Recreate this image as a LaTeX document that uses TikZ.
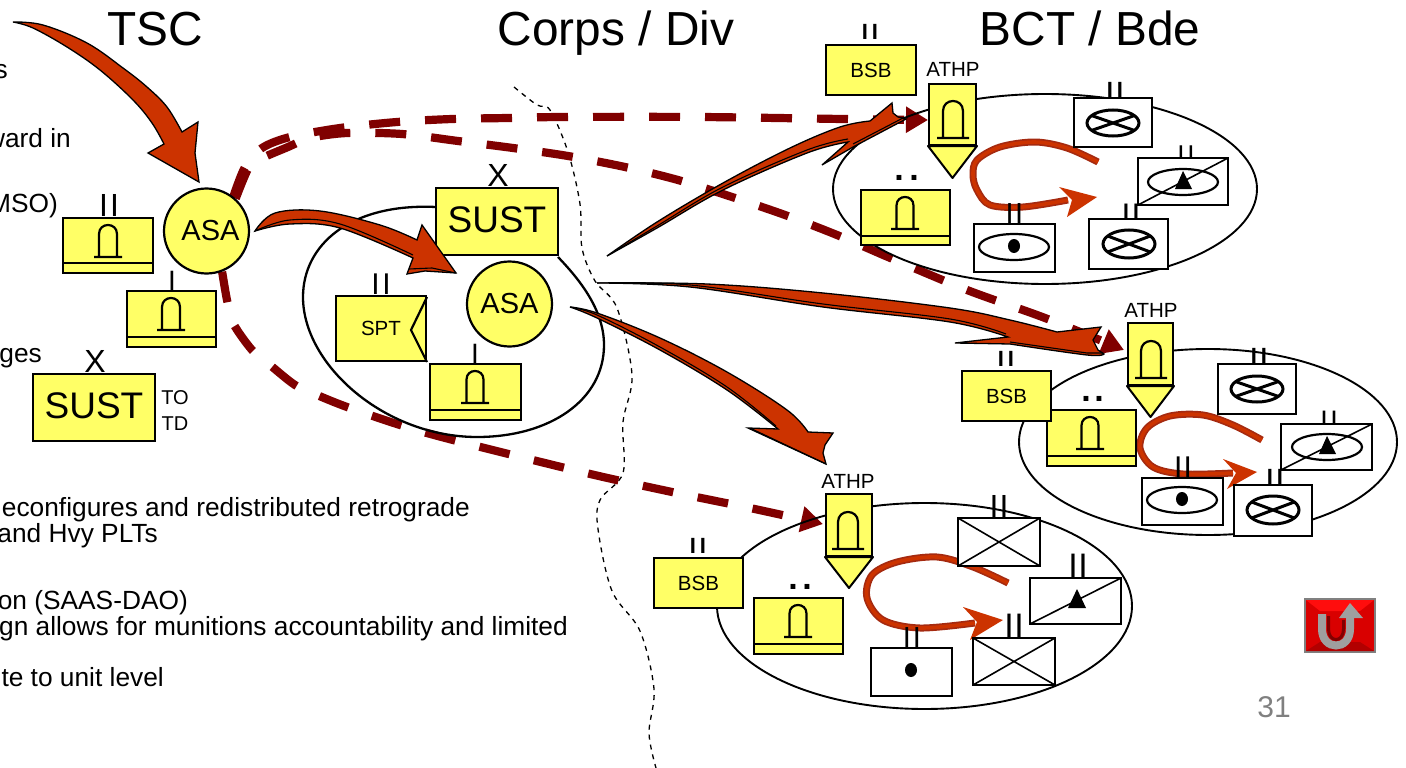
\documentclass[tikz,border=0pt]{standalone}
\usepackage{fontspec}
\setmainfont{Liberation Sans}
\usetikzlibrary{arrows.meta}
\definecolor{unityellow}{HTML}{FFFF66}
\definecolor{boltred}{HTML}{CC3300}
\definecolor{darkred}{HTML}{800000}
\definecolor{uedge}{HTML}{A52A10}
\definecolor{pagegray}{HTML}{808080}
\pgfdeclarelayer{back}
\pgfdeclarelayer{front}
\pgfsetlayers{back,main,front}
\newcommand{\myfs}[1]{\fontsize{#1}{#1}\selectfont}
\newcount\ecnt
\newcommand{\ech}[6]{%
  \global\advance\ecnt by 1
  \pgfmathsetmacro\ekern{#5-0.278*#4}%
  \node[inner sep=0,anchor=base] (e\the\ecnt) at (#2,#3) {\myfs{#4}#6\relax #1\kern\ekern pt #1};}
\newcommand{\ubox}[7]{%
  \pgfmathsetmacro\bw{#5-#3-2}\pgfmathsetmacro\bh{#6-#4-2}%
  \node[#1,minimum width=\bw pt,minimum height=\bh pt] (#2) at ({(#3+#5)/2},{(#4+#6)/2}) {#7};}
\newcommand{\towr}[5]{%
  \draw[sym] ({#1-#4},#3) -- ({#1-#4},{#2+#4}) .. controls ({#1-#4},{#2-#4/3}) and ({#1+#4},{#2-#4/3}) .. ({#1+#4},{#2+#4}) -- ({#1+#4},#3)
     ({#1-#5},#3) -- ({#1+#5},#3);}
\newcommand{\unitbox}[6]{% name,l,t,r,b,divider
  \ubox{ybox}{#1}{#2}{#3}{#4}{#5}{}
  \draw[ln] (#2,#6) -- (#4,#6);}
\newcommand{\crossell}[4]{%
  \draw[sym,line width=3pt] (#1,#2) ellipse [x radius=#3,y radius=#4];
  \draw[sym,line width=3pt] ({#1-.82*#3},{#2-.57*#4}) -- ({#1+.82*#3},{#2+.57*#4}) ({#1-.82*#3},{#2+.57*#4}) -- ({#1+.82*#3},{#2-.57*#4});}
\newcommand{\athp}[6]{% name,l,t,r,shoulder,tip
  \fill[unityellow,draw=black,line width=2pt,line join=round] (#2,#5) -- ({(#2+#4)/2},#6) -- (#4,#5) -- cycle;
  \ubox{ybox}{#1}{#2}{#3}{#4}{#5}{}}
\newcommand{\uturn}[3]{% points, head points, tip name
  \begin{pgfonlayer}{back}
  \draw[line width=7pt,uedge,line join=round] plot[smooth,tension=.55] coordinates {#1};
  \draw[line width=3.6pt,boltred,line join=round] plot[smooth,tension=.55] coordinates {#1};
  \fill[boltred] #2 -- cycle;
  \end{pgfonlayer}}
\tikzset{
  x=1pt,y=-1pt,
  ln/.style={draw=black,line width=2.4pt},
  sym/.style={draw=black,line width=2.2pt},
  ybox/.style={draw=black,fill=unityellow,line width=2.8pt,inner sep=0pt,outer sep=0pt},
  wbox/.style={draw=black,fill=white,line width=2.2pt,inner sep=0pt,outer sep=0pt},
  asa/.style={circle,draw=black,fill=unityellow,line width=2.2pt,inner sep=0pt,minimum size=85pt,font=\myfs{29}},
  oval/.style={draw=black,line width=1.9pt},
  title/.style={inner sep=0pt,anchor=base,font=\myfs{47.8}},
  slab/.style={inner sep=0pt,font=\myfs{20.5}},
  body/.style={inner sep=0pt,anchor=base east,font=\myfs{26.3}},
  loopdash/.style={draw=darkred,line width=8.2pt,dash pattern=on 31pt off 25pt},
  looptip/.style={-{Triangle[length=22pt,width=25pt]}},
  bolt/.style={fill=boltred,draw=black,line width=1.3pt,line join=miter,miter limit=8},
  rim/.style={draw=black,line width=1.1pt},
  divider/.style={draw=black,line width=1.3pt,dash pattern=on 5pt off 5pt},
}
\begin{document}
\begin{tikzpicture}
\useasboundingbox (0,0) rectangle (1406,768);

% titles
\node[title] (t1) at (155,45.5) {TSC};
\node[title] (t2) at (616,45.5) {Corps / Div};
\node[title] (t3) at (1090,45.5) {BCT / Bde};

% clipped body text
\node[body] (b1) at (8,78) {s};
\node[body] (b2) at (71,147) {ward in};
\node[body] (b3) at (58,212) {MSO)};
\node[body] (b4) at (42,362) {ges};
\node[body] (b5) at (470,516) {econfigures and redistributed retrograde};
\node[body] (b6) at (158,542) {and Hvy PLTs};
\node[body] (b7) at (188,609) {on (SAAS-DAO)};
\node[body] (b8) at (568,635) {gn allows for munitions accountability and limited};
\node[body] (b9) at (164,686) {te to unit level};
\node[inner sep=0pt,font=\myfs{30},text=pagegray] (pg) at (1274,707) {31};

% ---------- TSC ----------
\unitbox{tscbn}{62}{217}{154}{274}{263}
\towr{108}{225}{257}{9}{14}
\ech{I}{109}{216}{32}{11}{}
\node[asa] (asa1) at (206.5,231) {\hspace*{8pt}\raisebox{-3pt}{ASA}};
\unitbox{tscco}{126}{290}{217}{348}{337}
\towr{171}{298}{330}{9}{14}
\node[inner sep=0pt,anchor=base,font=\myfs{28}] (e1i) at (172,290) {I};
\ubox{ybox}{sust1}{32}{373}{156}{442}{\myfs{37}\raisebox{3pt}{SUST}}
\node[inner sep=0pt,anchor=base,font=\myfs{32}] (x1) at (95,372) {X};
\node[inner sep=0pt,font=\myfs{20}] (to) at (175,398) {TO};
\node[inner sep=0pt,font=\myfs{20}] (td) at (175,424) {TD};

% ---------- Corps / Div ----------
\ubox{ybox}{sust2}{435}{187}{559}{256}{\myfs{37}\raisebox{3pt}{SUST}}
\node[inner sep=0pt,anchor=base,font=\myfs{32}] (x2) at (498,186) {X};
\node[asa] (asa2) at (509.5,304) {\raisebox{-2pt}{ASA}};
\ubox{ybox}{spt}{335}{295}{427}{362}{\myfs{20.5}SPT}
\draw[sym] (427,297) -- (411,330) -- (427,362);
\ech{I}{381}{294}{30}{11}{}
\unitbox{corpsco}{429}{363}{522}{421}{410}
\towr{475}{371}{403}{8.5}{14}
\node[inner sep=0pt,anchor=base,font=\myfs{28}] (e2i) at (475,363) {I};

% ---------- BCT 1 ----------
\ubox{ybox}{bsb1}{825}{44}{917}{96}{\myfs{20.5}BSB}
\ech{I}{870}{40}{22}{10}{\bfseries}
\node[slab] (al1) at (953,69) {ATHP};
\athp{athp1}{928}{83}{977}{146}{178}
\towr{953}{101}{138}{10}{16}
\unitbox{plt1}{860}{189}{951}{246}{236}
\towr{905}{197}{229}{8.5}{14}
\ech{.}{906.5}{180}{34}{15}{\bfseries}
\ubox{wbox}{w11}{1073}{97}{1153}{148}{}
\ech{I}{1115}{97}{22}{10}{\bfseries}
\crossell{1113}{123}{26}{13}
\ubox{wbox}{w12}{1137}{157}{1229}{206}{}
\ech{I}{1186}{157}{17}{10}{\bfseries}
\draw[sym] (1183,182) ellipse [x radius=35,y radius=13];
\fill (1183,171) -- (1192,189) -- (1175,189) -- cycle;
\draw[sym,line width=1.6pt] (w12.south west) -- (w12.north east);
\ubox{wbox}{w13}{973}{223}{1056}{273}{}
\ech{I}{1014.5}{223}{29}{9.5}{}
\draw[sym] (1014,247) ellipse [x radius=35,y radius=13];
\fill (1014,246) ellipse [x radius=6,y radius=7];
\ubox{wbox}{w14}{1088}{218}{1169}{270}{}
\ech{I}{1131}{218}{21}{10}{\bfseries}
\crossell{1129}{244}{26}{14}

% ---------- BCT 2 ----------
\unitbox{plt2}{1046}{409}{1137}{467}{456}
\towr{1090}{417}{449}{8.5}{14}
\ech{.}{1092.5}{401}{34}{13}{\bfseries}
\ubox{ybox}{bsb2}{961}{370}{1052}{422}{\myfs{20.5}BSB}
\ech{I}{1006}{366}{22}{10}{\bfseries}
\node[slab] (al2) at (1151,310) {ATHP};
\athp{athp2}{1127}{322}{1174}{386}{417}
\towr{1151}{341}{378}{10}{16}
\ubox{wbox}{w21}{1217}{363}{1297}{415}{}
\ech{I}{1259}{363}{22}{10}{\bfseries}
\crossell{1257}{389}{26}{13}
\ubox{wbox}{w22}{1280}{423}{1373}{471}{}
\ech{I}{1329}{423}{18}{10}{\bfseries}
\draw[sym] (1327,447) ellipse [x radius=35,y radius=13];
\fill (1327,436) -- (1336,454) -- (1319,454) -- cycle;
\draw[sym,line width=1.6pt] (w22.south west) -- (w22.north east);
\ubox{wbox}{w23}{1141}{477}{1224}{526}{}
\ech{I}{1183}{477}{30}{9.5}{}
\draw[sym] (1182,500) ellipse [x radius=35,y radius=13];
\fill (1182,499) ellipse [x radius=6,y radius=7];
\ubox{wbox}{w24}{1233}{484}{1313}{537}{}
\ech{I}{1275}{484}{22}{10}{\bfseries}
\crossell{1273}{510}{26}{14}

% ---------- BCT 3 ----------
\ubox{ybox}{bsb3}{653}{557}{744}{609}{\myfs{20.5}BSB}
\ech{I}{698}{553}{22}{10}{\bfseries}
\node[slab] (al3) at (848,481) {ATHP};
\athp{athp3}{825}{493}{873}{557}{588}
\towr{848}{512}{549}{10}{16}
\unitbox{plt3}{753}{597}{844}{655}{644}
\towr{798}{605}{637}{8.5}{14}
\ech{.}{800}{589}{34}{14}{\bfseries}
\ubox{wbox}{w31}{957}{517}{1041}{567}{}
\ech{I}{999}{517}{32}{10}{}
\draw[sym,line width=1.6pt] (w31.south west) -- (w31.north east) (w31.north west) -- (w31.south east);
\ubox{wbox}{w32}{1029}{577}{1122}{625}{}
\ech{I}{1078}{577}{34}{10}{}
\draw[sym,line width=1.6pt] (w32.south west) -- (w32.north east);
\fill (1077,589) -- (1086,608) -- (1068,608) -- cycle;
\ubox{wbox}{w33}{870}{647}{953}{697}{}
\ech{I}{912}{647}{29}{10}{}
\fill (911,670) ellipse [x radius=6,y radius=7];
\ubox{wbox}{w34}{972}{637}{1056}{686}{}
\ech{I}{1014}{637}{34}{10}{}
\draw[sym,line width=1.6pt] (w34.south west) -- (w34.north east) (w34.north west) -- (w34.south east);

% ---------- arrow ends ----------
\coordinate (tipA) at (928,120);
\coordinate (tipB) at (1124,350);
\coordinate (tipC) at (823,524);

% ---------- things behind the boxes ----------
\begin{pgfonlayer}{back}
  \draw[divider] plot[smooth,tension=.55] coordinates {(514,87) (537,105) (550,110) (568,152) (580,204) (582,248) (595,281) (617,308) (632,375) (623,422) (623,473) (600,500) (598,529) (612,591) (640,631) (654,689) (649,733) (656,768)};
  \draw[loopdash,looptip] plot[smooth,tension=.5] coordinates {(asa1.52) (245,167) (262,148) (290,137) (340,128) (397,122) (452,119) (508,118) (563,117) (700,117) (843,119) (tipA)};
  \draw[loopdash,looptip] plot[smooth,tension=.5] coordinates {(asa1.48) (248,169) (258,160) (288,147) (310,138) (347,133) (402,134) (458,141) (513,148) (568,156) (625,167) (678,180) (732,197) (785,215) (837,235) (888,257) (967,290) (1045,318) (tipB)};
  \draw[loopdash,looptip] plot[smooth,tension=.5] coordinates {(asa1.-69) (227,300) (233,323) (252,350) (270,365) (295,385) (317,395) (347,407) (400,425) (453,440) (586,473) (672,492) (750,508) (tipC)};
  \draw[oval,line width=2.3pt] (436,207) .. controls (350,203) and (303,245) .. (303,297) .. controls (303,365) and (385,437) .. (477,437) .. controls (550,437) and (604,400) .. (604,345) .. controls (604,310) and (580,280) .. (558,257);
  \draw[oval] (1045,189) ellipse [x radius=212,y radius=95];
  \draw[oval] (1208,442) ellipse [x radius=189,y radius=93];
  \draw[oval] (924.5,606) ellipse [x radius=207.5,y radius=103];
\end{pgfonlayer}

% ---------- U-turn arrows ----------
\uturn{(1098,162) (1067,148) (1035,142) (1000,147) (977,160) (973,175) (977,190) (990,205) (1023,207) (1068,200)}{(1097,197) -- (1059,187) -- (1072,200) -- (1067,217)}{}
\uturn{(1262,440) (1233,425) (1203,415) (1170,416) (1147,428) (1140,448) (1153,467) (1183,474) (1233,473)}{(1257,472) -- (1223,459) -- (1236,473) -- (1227,489)}{}
\uturn{(1008,583) (973,567) (937,557) (897,562) (872,575) (867,598) (883,620) (920,628) (975,623)}{(1003,620) -- (963,607) -- (977,622) -- (970,640)}{}

% ---------- big block arrows ----------
\begin{pgfonlayer}{front}
  \coordinate (bt1) at (13,22);
  \coordinate (bt2) at (255,231);
  \coordinate (bt3) at (570,307);
  \coordinate (bt4) at (597,283);
  \coordinate (bt5) at (607,256);
  % from the top into ASA
  \draw[bolt] plot[smooth,tension=.6] coordinates {(bt1) (43,25) (87,43) (123,68) (147,87) (167,107) (182,132)} -- (198,122) -- (195,153) -- (199,182) -- (148,153) -- (164,144) -- plot[smooth,tension=.6] coordinates {(164,144) (152,123) (133,100) (100,70) (67,47) (33,28) (bt1)} -- cycle;
  % ASA to ASA
  \draw[bolt] plot[smooth,tension=.6] coordinates {(bt2) (275,213) (320,211) (380,225) (417,240)} -- (422,225) -- (456,273) -- (425,271) -- (407,274) -- (413,258) -- plot[smooth,tension=.6] coordinates {(413,258) (340,228) (290,224) (bt2)} -- cycle;
  \draw[rim] plot[smooth,tension=.6] coordinates {(bt2) (290,220) (340,224) (413,255)} (409,269) -- (432,268) -- (456,273);
  % ASA to lower ATHP
  \draw[bolt] plot[smooth,tension=.6] coordinates {(bt3) (597,313) (660,338) (727,372) (787,410) (808,432)} -- (833,433) -- (825,445) -- (823,453) -- (826,464) -- (748,428) -- (778,429) -- plot[smooth,tension=.6] coordinates {(778,429) (727,390) (660,350) (597,318) (bt3)} -- cycle;
  \draw[rim] plot[smooth,tension=.6] coordinates {(bt3) (597,315) (660,347) (727,387) (776,426)} (752,429) -- (826,464);
  % to middle ATHP
  \draw[bolt] plot[smooth,tension=.6] coordinates {(bt4) (707,284) (823,293) (950,308) (1010,320) (1057,332)} -- (1101,327) -- (1093,340) -- (1098,350) -- (1104,354) -- plot[smooth,tension=.6] coordinates {(1104,354) (1087,355) (1010,344)} -- (955,343) -- (1008,337) -- plot[smooth,tension=.6] coordinates {(1008,337) (950,322) (823,307) (690,287) (bt4)} -- cycle;
  \draw[rim] plot[smooth,tension=.6] coordinates {(bt4) (690,285) (823,304) (950,319) (1006,334)} (1010,342) -- (1087,353) -- (1103,353);
  % to upper ATHP
  \draw[bolt] plot[smooth,tension=.6] coordinates {(bt5) (657,222) (723,183) (790,148) (840,127) (870,121)} -- (892,103) -- (893,113) -- (898,117) -- (906,119) -- (853,147) -- (822,165) -- (848,142) -- plot[smooth,tension=.6] coordinates {(848,142) (807,153) (723,190) (657,228) (bt5)} -- cycle;
  \draw[rim] plot[smooth,tension=.6] coordinates {(bt5) (657,226) (723,187) (807,150) (848,139)} (853,144) -- (903,118);
\end{pgfonlayer}

% ---------- return button ----------
\fill[pagegray] (1304,598) rectangle (1376,653);
\fill[red!85!black] (1306,600) rectangle (1374,651);
\fill[red!95!white] (1306,600) -- (1374,600) -- (1360,611) -- (1320,611) -- cycle;
\fill[red!70!black] (1306,651) -- (1374,651) -- (1360,642) -- (1320,642) -- cycle;
\draw[line width=8pt,gray!75] (1322,614) -- (1322,629) .. controls (1322,651) and (1350,651) .. (1350,629) -- (1350,615);
\fill[gray!75] (1350,603) -- (1363,618) -- (1339,618) -- cycle;
\draw[line width=3pt,red!50!black] (1328.5,616) -- (1328.5,629) .. controls (1328.5,643) and (1343.5,643) .. (1343.5,629) -- (1343.5,620);
\end{tikzpicture}
\end{document}
